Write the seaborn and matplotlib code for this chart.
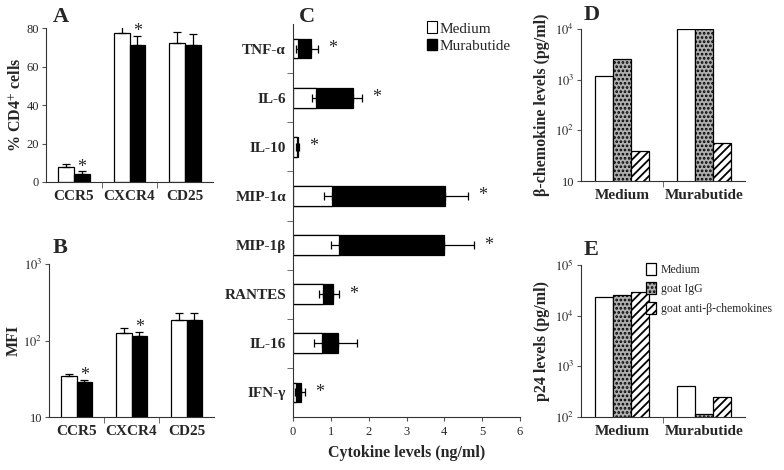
import numpy as np
import pandas as pd
import matplotlib.pyplot as plt
from matplotlib.patches import Patch
import seaborn as sns

sns.set_style('ticks')
plt.rcParams['font.family'] = ['Liberation Serif', 'DejaVu Serif']
plt.rcParams['mathtext.fontset'] = 'stix'
plt.rcParams['hatch.linewidth'] = 1.3

# --- A / B : receptor expression on CD4+ cells
receptors = ['CCR5', 'CXCR4', 'CD25']
conditions = ['Medium', 'Murabutide']
pct_medium = [8, 77.5, 72]
pct_medium_err = [1.2, 4, 6]
pct_murab = [4, 71, 71]
pct_murab_err = [1.5, 5, 6]
pct_signif = [True, True, False]

mfi_medium = [34, 124, 184]
mfi_medium_err = [3, 23, 43]
mfi_murab = [29, 115, 184]
mfi_murab_err = [1.5, 14, 43]
mfi_signif = [True, True, False]

# --- C : cytokine levels
cytokines = ['TNF-α', 'IL-6', 'IL-10', 'MIP-1α', 'MIP-1β', 'RANTES', 'IL-16', 'IFN-γ']
cyto_medium = [0.13, 0.6, 0.1, 1.04, 1.21, 0.78, 0.77, 0.08]
cyto_medium_err = [0.05, 0.1, 0.03, 0.22, 0.21, 0.09, 0.21, 0.03]
cyto_murab = [0.47, 1.58, 0.13, 4.03, 3.99, 1.06, 1.2, 0.22]
cyto_murab_err = [0.19, 0.25, 0.04, 0.6, 0.8, 0.16, 0.48, 0.11]
cyto_signif = [True, True, True, True, True, True, False, True]

# --- D / E : antibody treatment
cultures = ['Medium', 'Murabutide']
treatments = ['Medium', 'goat IgG', 'goat anti-β-chemokines']
beta_medium = [1180, 2550, 39]
beta_murab = [10000, 9800, 57]
p24_medium = [22900, 25500, 28700]
p24_murab = [407, 113, 245]

W, H = 784, 470
fig = plt.figure(figsize=(W / 100, H / 100), dpi=100)


def px_axes(left, top, right, bottom):
    return fig.add_axes([left / W, 1 - bottom / H, (right - left) / W, (bottom - top) / H])


def style_axes(ax, ncat, horizontal=False):
    sns.despine(ax=ax)
    for s in ['left', 'bottom']:
        ax.spines[s].set_linewidth(0.8)
        ax.spines[s].set_color('#333333')
    bounds = np.arange(ncat - 1) + 0.5
    if horizontal:
        ax.set_yticks(bounds, minor=True)
        ax.tick_params(axis='y', which='major', length=0, labelsize=11, pad=5)
        ax.tick_params(axis='y', which='minor', length=4, direction='out', color='#555555')
        ax.tick_params(axis='x', which='major', length=3, labelsize=9, color='#555555')
        for t in ax.get_yticklabels():
            t.set_fontweight('bold')
    else:
        ax.set_xticks(bounds, minor=True)
        ax.tick_params(axis='x', which='major', length=0, labelsize=11, pad=6)
        ax.tick_params(axis='x', which='minor', length=4, direction='out', color='#555555')
        ax.tick_params(axis='y', which='major', length=3, labelsize=9, color='#555555', pad=2)
        ax.tick_params(axis='y', which='minor', length=0)
        for t in ax.get_xticklabels():
            t.set_fontweight('bold')


def grouped(ax, cats, hues, rows, palette, width, log=False):
    df = pd.DataFrame({'cat': np.repeat(cats, len(hues)),
                       'hue': hues * len(cats),
                       'val': np.array(rows).T.ravel()})
    if log:
        ax.set_yscale('log')
    sns.barplot(data=df, x='cat', y='val', hue='hue', palette=palette, saturation=1,
                edgecolor='black', linewidth=0.9, width=width, gap=0,
                errorbar=None, legend=False, ax=ax)
    ax.set_xlabel('')
    ax.set_ylabel('')
    ax.set_xlim(-0.5, len(cats) - 0.5)


def add_errors(ax, errs, signif=None, star_idx=1):
    for container, err in zip(ax.containers, errs):
        for bar, e in zip(container, err):
            x = bar.get_x() + bar.get_width() / 2
            y = bar.get_height()
            ax.errorbar(x, y, yerr=[[0], [e]], fmt='none', ecolor='black',
                        elinewidth=0.9, capsize=3, capthick=0.9)
    if signif is not None:
        container = ax.containers[star_idx]
        for bar, e, s in zip(container, errs[star_idx], signif):
            if s:
                ax.annotate('*', (bar.get_x() + bar.get_width() / 2, bar.get_height() + e),
                            xytext=(0, -3), textcoords='offset points', ha='center',
                            va='bottom', fontsize=13)


# ---------------- A
axA = px_axes(46, 28, 213, 182)
grouped(axA, receptors, conditions, [pct_medium, pct_murab], ['white', 'black'], 0.57)
axA.set_ylim(0, 80)
axA.set_yticks([0, 20, 40, 60, 80])
add_errors(axA, [pct_medium_err, pct_murab_err], pct_signif)
style_axes(axA, 3)
axA.set_ylabel('% CD4$^{+}$ cells', fontsize=11.5, fontweight='bold', labelpad=2)

# ---------------- B
axB = px_axes(49, 264, 214, 417)
grouped(axB, receptors, conditions, [mfi_medium, mfi_murab], ['white', 'black'], 0.57, log=True)
axB.set_ylim(10, 1000)
axB.set_yticks([10, 100, 1000], ['10', '$10^2$', '$10^3$'])
axB.minorticks_off()
add_errors(axB, [mfi_medium_err, mfi_murab_err], mfi_signif)
style_axes(axB, 3)
axB.set_ylabel('MFI', fontsize=11.5, fontweight='bold', labelpad=1)

# ---------------- C
axC = px_axes(293, 24, 520, 417)
sns.barplot(x=cyto_murab, y=cytokines, orient='h', color='black', saturation=1,
            edgecolor='black', linewidth=0.9, width=0.4, errorbar=None, ax=axC)
murab_bars = list(axC.patches)
sns.barplot(x=cyto_medium, y=cytokines, orient='h', color='white', saturation=1,
            edgecolor='black', linewidth=0.9, width=0.4, errorbar=None, ax=axC)
med_bars = axC.patches[len(murab_bars):]
for bar, e in zip(med_bars, cyto_medium_err):
    y = bar.get_y() + bar.get_height() / 2
    axC.errorbar(bar.get_width(), y, xerr=[[e], [0]], fmt='none', ecolor='black',
                 elinewidth=0.9, capsize=3, capthick=0.9, zorder=5)
for bar, e, s in zip(murab_bars, cyto_murab_err, cyto_signif):
    y = bar.get_y() + bar.get_height() / 2
    axC.errorbar(bar.get_width(), y, xerr=[[0], [e]], fmt='none', ecolor='black',
                 elinewidth=0.9, capsize=3, capthick=0.9, zorder=5)
    if s:
        axC.annotate('*', (bar.get_width() + e, y), xytext=(7, 0), textcoords='offset points',
                     ha='left', va='center', fontsize=13)
axC.set_xlim(0, 6)
axC.set_ylim(len(cytokines) - 0.5, -0.5)
axC.set_xticks(range(7))
style_axes(axC, len(cytokines), horizontal=True)
axC.set_xlabel('Cytokine levels (ng/ml)', fontsize=11.5, fontweight='bold', labelpad=5)
axC.legend(handles=[Patch(facecolor='white', edgecolor='black', linewidth=0.8),
                    Patch(facecolor='black', edgecolor='black')],
           labels=conditions, loc='upper right', bbox_to_anchor=(1.0, 1.03), frameon=False,
           fontsize=11, handlelength=0.6, handleheight=0.8, handletextpad=0.2,
           labelspacing=0.2, borderaxespad=0.2)

# ---------------- D / E
hatches = ['', '....', '////']
palette3 = ['white', '#b0b0b0', 'white']

axD = px_axes(581, 29, 745, 181)
grouped(axD, cultures, treatments, [[a, b] for a, b in zip(beta_medium, beta_murab)],
        palette3, 0.67, log=True)
axD.set_ylim(10, 10000)
axD.set_yticks([10, 100, 1000, 10000], ['10', '$10^2$', '$10^3$', '$10^4$'])
axD.minorticks_off()
for c, h in zip(axD.containers, hatches):
    for bar in c:
        bar.set_hatch(h)
style_axes(axD, 2)
axD.set_ylabel('β-chemokine levels (pg/ml)', fontsize=11.5, fontweight='bold', labelpad=4)

axE = px_axes(581, 265, 745, 417)
grouped(axE, cultures, treatments, [[a, b] for a, b in zip(p24_medium, p24_murab)],
        palette3, 0.67, log=True)
axE.set_ylim(100, 100000)
axE.set_yticks([100, 1000, 10000, 100000], ['$10^2$', '$10^3$', '$10^4$', '$10^5$'])
axE.minorticks_off()
for c, h in zip(axE.containers, hatches):
    for bar in c:
        bar.set_hatch(h)
style_axes(axE, 2)
axE.set_ylabel('p24 levels (pg/ml)', fontsize=11.5, fontweight='bold', labelpad=4)
axE.legend(handles=[c[0] for c in axE.containers], labels=treatments,
           loc='upper left', bbox_to_anchor=(0.38, 1.03), frameon=False, fontsize=8.5,
           handlelength=0.9, handleheight=1.2, handletextpad=0.4, labelspacing=0.55,
           borderaxespad=0, borderpad=0.2)

# panel letters
for letter, (x, y) in zip('ABCDE', [(61, 17), (60, 248), (307, 17), (592, 15), (591, 250)]):
    fig.text(x / W, 1 - y / H, letter, fontsize=16, fontweight='bold', ha='center', va='center')

fig.savefig('out.png', dpi=100)
